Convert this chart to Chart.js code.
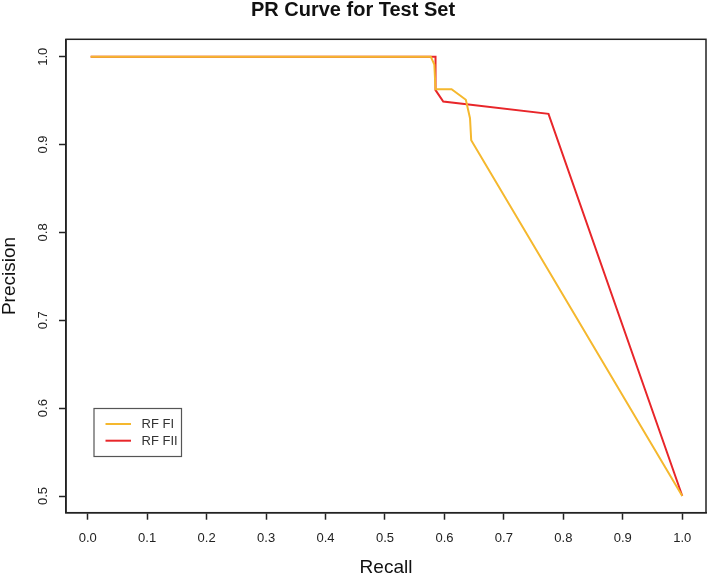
<!DOCTYPE html>
<html>
<head>
<meta charset="utf-8">
<script src="https://cdn.jsdelivr.net/npm/chart.js@4.4.1/dist/chart.umd.min.js"></script>
<style>
html,body{margin:0;padding:0;background:#fff;}
canvas{display:block;}
</style>
</head>
<body>
<canvas id="c" width="709" height="577"></canvas>
<script>
// ---- data ----
const seriesLabels = ['RF FI', 'RF FII'];
const recallFI    = [0.005, 0.577, 0.583, 0.585, 0.612, 0.636, 0.643, 0.645, 1.0];
const precisionFI = [1.000, 1.000, 0.991, 0.963, 0.963, 0.951, 0.930, 0.905, 0.5];
const recallFII    = [0.005, 0.585, 0.585, 0.598, 0.775, 1.0];
const precisionFII = [1.000, 1.000, 0.962, 0.949, 0.935, 0.5];
const xTicks = [0.0, 0.1, 0.2, 0.3, 0.4, 0.5, 0.6, 0.7, 0.8, 0.9, 1.0];
const yTicks = [0.5, 0.6, 0.7, 0.8, 0.9, 1.0];
const chartTitle = 'PR Curve for Test Set';
const xTitle = 'Recall';
const yTitle = 'Precision';

const colors = ['#F5B82E', '#E8262A'];
const FONT = '"Liberation Sans", Arial, sans-serif';

function pts(xs, ys){ return xs.map((x,i)=>({x:x, y:ys[i]})); }

const boxPlugin = {
  id: 'boxPlugin',
  afterDraw(chart){
    const ctx = chart.ctx, a = chart.chartArea;
    ctx.save();
    ctx.strokeStyle = '#222';
    ctx.lineWidth = 1.5;
    ctx.strokeRect(a.left, a.top, a.right - a.left, a.bottom - a.top);
    // rotated y tick labels (R style)
    const ys = chart.scales.y;
    ctx.fillStyle = '#222';
    ctx.font = '13px ' + FONT;
    ctx.textAlign = 'center';
    ctx.textBaseline = 'middle';
    yTicks.forEach(v=>{
      const py = ys.getPixelForValue(v);
      ctx.save();
      ctx.translate(43, py);
      ctx.rotate(-Math.PI/2);
      ctx.fillText(v.toFixed(1), 0, 0);
      ctx.restore();
    });
    // legend
    const lx = 94, ly = 408.5, lw = 87.5, lh = 48;
    ctx.strokeStyle = '#555';
    ctx.lineWidth = 1.2;
    ctx.strokeRect(lx, ly, lw, lh);
    ctx.font = '13px ' + FONT;
    ctx.textAlign = 'left';
    ctx.fillStyle = '#333';
    chart.data.datasets.forEach((ds, i)=>{
      const y = 424 + i * 16.7;
      ctx.strokeStyle = ds.borderColor;
      ctx.lineWidth = 2;
      ctx.beginPath();
      ctx.moveTo(105.5, y);
      ctx.lineTo(131, y);
      ctx.stroke();
      ctx.fillText(ds.label, 141.5, y + 0.5);
    });
    ctx.restore();
  }
};

new Chart(document.getElementById('c'), {
  type: 'scatter',
  data: {
    datasets: [
      { label: seriesLabels[0], data: pts(recallFI, precisionFI), showLine: true,
        borderColor: colors[0], backgroundColor: colors[0], borderWidth: 2, pointRadius: 0, tension: 0 },
      { label: seriesLabels[1], data: pts(recallFII, precisionFII), showLine: true,
        borderColor: colors[1], backgroundColor: colors[1], borderWidth: 2, pointRadius: 0, tension: 0 }
    ]
  },
  options: {
    responsive: false,
    animation: false,
    devicePixelRatio: 1,
    layout: { padding: { top: 0, right: 3, bottom: 0, left: 0 } },
    plugins: {
      legend: { display: false },
      tooltip: { enabled: false },
      title: {
        display: true, text: chartTitle, color: '#111',
        font: { family: FONT, size: 20, weight: 'bold', lineHeight: 1 },
        padding: { top: 0, bottom: 19.3 }
      }
    },
    scales: {
      x: {
        type: 'linear', min: -0.0365, max: 1.0399,
        afterBuildTicks: s => { s.ticks = xTicks.map(v => ({ value: v })); },
        afterFit: s => { s.height = 64.3; },
        ticks: { callback: v => Number(v).toFixed(1), color: '#222', font: { family: FONT, size: 13 },
                 padding: 11, maxRotation: 0, autoSkip: false },
        grid: { display: true, drawOnChartArea: false, drawTicks: true, tickLength: 7,
                tickColor: '#222', tickWidth: 1.5 },
        border: { display: true, color: '#222', width: 1.5 },
        title: { display: true, text: xTitle, color: '#111',
                 font: { family: FONT, size: 19, lineHeight: 1 }, padding: 0 }
      },
      y: {
        type: 'linear', min: 0.481, max: 1.0198,
        afterBuildTicks: s => { s.ticks = yTicks.map(v => ({ value: v })); },
        afterFit: s => { s.width = 66; },
        ticks: { display: false },
        grid: { display: true, drawOnChartArea: false, drawTicks: true, tickLength: 7,
                tickColor: '#222', tickWidth: 1.5 },
        border: { display: true, color: '#222', width: 1.5 },
        title: { display: true, text: yTitle, color: '#111',
                 font: { family: FONT, size: 19, lineHeight: 1 }, padding: 0 }
      }
    }
  },
  plugins: [boxPlugin]
});
</script>
</body>
</html>
